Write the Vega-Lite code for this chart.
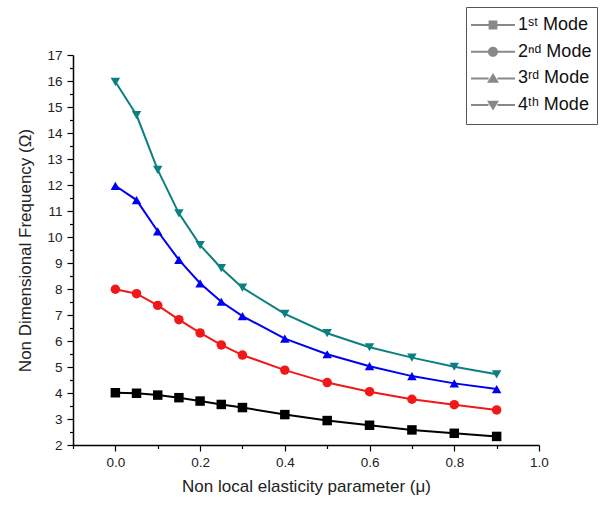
{
  "$schema": "https://vega.github.io/schema/vega-lite/v6.json",
  "width": 466,
  "height": 390,
  "autosize": "none",
  "padding": {"left": 73, "top": 55, "right": 63, "bottom": 63},
  "background": "white",
  "config": {
    "font": "Liberation Sans",
    "view": {"stroke": null},
    "axis": {
      "grid": false,
      "domainColor": "#000",
      "domainWidth": 1.5,
      "tickColor": "#000",
      "tickWidth": 1.2,
      "labelColor": "#222",
      "labelFontSize": 13.5,
      "titleFontSize": 17,
      "titleFontWeight": "normal",
      "titleColor": "#222",
      "labelFont": "Liberation Sans",
      "titleFont": "Liberation Sans"
    },
    "legend": {
      "orient": "none",
      "legendX": 393,
      "legendY": -48,
      "strokeColor": "#555",
      "fillColor": "white",
      "padding": 5,
      "labelFontSize": 18,
      "labelColor": "#111",
      "labelFont": "Liberation Sans",
      "labelOffset": 3,
      "symbolSize": 1936,
      "symbolStrokeWidth": 0,
      "symbolOpacity": 1,
      "symbolFillColor": "#888888",
      "clipHeight": 26,
      "rowPadding": 0.7
    }
  },
  "data": {
    "values": [
      {"mu": 0, "mode": "1ˢᵗ Mode", "freq": 4.01},
      {"mu": 0.05, "mode": "1ˢᵗ Mode", "freq": 3.99},
      {"mu": 0.1, "mode": "1ˢᵗ Mode", "freq": 3.92},
      {"mu": 0.15, "mode": "1ˢᵗ Mode", "freq": 3.82},
      {"mu": 0.2, "mode": "1ˢᵗ Mode", "freq": 3.69},
      {"mu": 0.25, "mode": "1ˢᵗ Mode", "freq": 3.56},
      {"mu": 0.3, "mode": "1ˢᵗ Mode", "freq": 3.44},
      {"mu": 0.4, "mode": "1ˢᵗ Mode", "freq": 3.17},
      {"mu": 0.5, "mode": "1ˢᵗ Mode", "freq": 2.94},
      {"mu": 0.6, "mode": "1ˢᵗ Mode", "freq": 2.76},
      {"mu": 0.7, "mode": "1ˢᵗ Mode", "freq": 2.58},
      {"mu": 0.8, "mode": "1ˢᵗ Mode", "freq": 2.45},
      {"mu": 0.9, "mode": "1ˢᵗ Mode", "freq": 2.33},
      {"mu": 0, "mode": "2ⁿᵈ Mode", "freq": 7.99},
      {"mu": 0.05, "mode": "2ⁿᵈ Mode", "freq": 7.82},
      {"mu": 0.1, "mode": "2ⁿᵈ Mode", "freq": 7.37},
      {"mu": 0.15, "mode": "2ⁿᵈ Mode", "freq": 6.82},
      {"mu": 0.2, "mode": "2ⁿᵈ Mode", "freq": 6.31},
      {"mu": 0.25, "mode": "2ⁿᵈ Mode", "freq": 5.85},
      {"mu": 0.3, "mode": "2ⁿᵈ Mode", "freq": 5.46},
      {"mu": 0.4, "mode": "2ⁿᵈ Mode", "freq": 4.88},
      {"mu": 0.5, "mode": "2ⁿᵈ Mode", "freq": 4.40},
      {"mu": 0.6, "mode": "2ⁿᵈ Mode", "freq": 4.05},
      {"mu": 0.7, "mode": "2ⁿᵈ Mode", "freq": 3.76},
      {"mu": 0.8, "mode": "2ⁿᵈ Mode", "freq": 3.55},
      {"mu": 0.9, "mode": "2ⁿᵈ Mode", "freq": 3.35},
      {"mu": 0, "mode": "3ʳᵈ Mode", "freq": 11.97},
      {"mu": 0.05, "mode": "3ʳᵈ Mode", "freq": 11.42},
      {"mu": 0.1, "mode": "3ʳᵈ Mode", "freq": 10.22},
      {"mu": 0.15, "mode": "3ʳᵈ Mode", "freq": 9.12},
      {"mu": 0.2, "mode": "3ʳᵈ Mode", "freq": 8.22},
      {"mu": 0.25, "mode": "3ʳᵈ Mode", "freq": 7.51},
      {"mu": 0.3, "mode": "3ʳᵈ Mode", "freq": 6.96},
      {"mu": 0.4, "mode": "3ʳᵈ Mode", "freq": 6.09},
      {"mu": 0.5, "mode": "3ʳᵈ Mode", "freq": 5.49},
      {"mu": 0.6, "mode": "3ʳᵈ Mode", "freq": 5.03},
      {"mu": 0.7, "mode": "3ʳᵈ Mode", "freq": 4.65},
      {"mu": 0.8, "mode": "3ʳᵈ Mode", "freq": 4.37},
      {"mu": 0.9, "mode": "3ʳᵈ Mode", "freq": 4.15},
      {"mu": 0, "mode": "4ᵗʰ Mode", "freq": 15.97},
      {"mu": 0.05, "mode": "4ᵗʰ Mode", "freq": 14.69},
      {"mu": 0.1, "mode": "4ᵗʰ Mode", "freq": 12.58},
      {"mu": 0.15, "mode": "4ᵗʰ Mode", "freq": 10.91},
      {"mu": 0.2, "mode": "4ᵗʰ Mode", "freq": 9.69},
      {"mu": 0.25, "mode": "4ᵗʰ Mode", "freq": 8.80},
      {"mu": 0.3, "mode": "4ᵗʰ Mode", "freq": 8.05},
      {"mu": 0.4, "mode": "4ᵗʰ Mode", "freq": 7.04},
      {"mu": 0.5, "mode": "4ᵗʰ Mode", "freq": 6.30},
      {"mu": 0.6, "mode": "4ᵗʰ Mode", "freq": 5.76},
      {"mu": 0.7, "mode": "4ᵗʰ Mode", "freq": 5.36},
      {"mu": 0.8, "mode": "4ᵗʰ Mode", "freq": 5.01},
      {"mu": 0.9, "mode": "4ᵗʰ Mode", "freq": 4.72}
    ]
  },
  "encoding": {
    "x": {
      "field": "mu",
      "type": "quantitative",
      "scale": {"domain": [-0.1, 1.0], "nice": false, "zero": false},
      "axis": {
        "title": "Non local elasticity parameter (μ)",
        "values": [-0.1, 0, 0.1, 0.2, 0.3, 0.4, 0.5, 0.6, 0.7, 0.8, 0.9, 1.0],
        "labelExpr": "abs(round(datum.value*10) % 2) == 0 ? format(datum.value, '.1f') : ''",
        "tickSize": {"condition": {"test": "abs(round(datum.value*10) % 2) == 0", "value": 6}, "value": 3.5},
        "labelPadding": 4,
        "titlePadding": 10,
        "labelFlush": false,
        "labelOverlap": false
      }
    },
    "y": {
      "field": "freq",
      "type": "quantitative",
      "scale": {"domain": [2, 17], "nice": false, "zero": false},
      "axis": {
        "title": "Non Dimensional Frequency (Ω)",
        "values": [2, 2.5, 3, 3.5, 4, 4.5, 5, 5.5, 6, 6.5, 7, 7.5, 8, 8.5, 9, 9.5, 10, 10.5, 11, 11.5, 12, 12.5, 13, 13.5, 14, 14.5, 15, 15.5, 16, 16.5, 17],
        "labelExpr": "datum.value % 1 == 0 ? format(datum.value, 'd') : ''",
        "tickSize": {"condition": {"test": "datum.value % 1 == 0", "value": 6}, "value": 3.5},
        "labelPadding": 5,
        "titlePadding": 12,
        "labelFlush": false,
        "labelOverlap": false
      }
    }
  },
  "layer": [
    {
      "mark": {"type": "line", "strokeWidth": 2},
      "encoding": {
        "color": {
          "field": "mode",
          "type": "nominal",
          "scale": {"domain": ["1ˢᵗ Mode", "2ⁿᵈ Mode", "3ʳᵈ Mode", "4ᵗʰ Mode"], "range": ["#000000", "#f01818", "#0000f0", "#0b8080"]},
          "legend": null
        }
      }
    },
    {
      "mark": {"type": "point", "filled": true, "opacity": 1, "size": 90},
      "encoding": {
        "color": {
          "field": "mode",
          "type": "nominal",
          "scale": {"domain": ["1ˢᵗ Mode", "2ⁿᵈ Mode", "3ʳᵈ Mode", "4ᵗʰ Mode"], "range": ["#000000", "#f01818", "#0000f0", "#0b8080"]},
          "legend": null
        },
        "shape": {
          "field": "mode",
          "type": "nominal",
          "scale": {"domain": ["1ˢᵗ Mode", "2ⁿᵈ Mode", "3ʳᵈ Mode", "4ᵗʰ Mode"], "range": ["square", "circle", "triangle-up", "triangle-down"]},
          "legend": null
        }
      }
    },
    {
      "mark": {"type": "point", "filled": true, "opacity": 0},
      "encoding": {
        "fill": {
          "field": "mode",
          "type": "nominal",
          "scale": {"domain": ["1ˢᵗ Mode", "2ⁿᵈ Mode", "3ʳᵈ Mode", "4ᵗʰ Mode"], "range": ["#000000", "#f01818", "#0000f0", "#0b8080"]},
          "legend": {"title": null}
        },
        "shape": {
          "field": "mode",
          "type": "nominal",
          "scale": {
            "domain": ["1ˢᵗ Mode", "2ⁿᵈ Mode", "3ʳᵈ Mode", "4ᵗʰ Mode"],
            "range": [
              "M-1,-0.045H-0.2V0.045H-1Z M0.2,-0.045H1V0.045H0.2Z M-0.2,-0.2H0.2V0.2H-0.2Z",
              "M-1,-0.045H-0.22V0.045H-1Z M0.22,-0.045H1V0.045H0.22Z M0.23,0A0.23,0.23 0 1,1 -0.23,0A0.23,0.23 0 1,1 0.23,0Z",
              "M-1,-0.045H-0.2V0.045H-1Z M0.2,-0.045H1V0.045H0.2Z M0,-0.25L0.27,0.2L-0.27,0.2Z",
              "M-1,-0.045H-0.2V0.045H-1Z M0.2,-0.045H1V0.045H0.2Z M0,0.25L-0.27,-0.2L0.27,-0.2Z"
            ]
          },
          "legend": {"title": null}
        }
      }
    }
  ],
  "resolve": {"scale": {"shape": "independent"}}
}
